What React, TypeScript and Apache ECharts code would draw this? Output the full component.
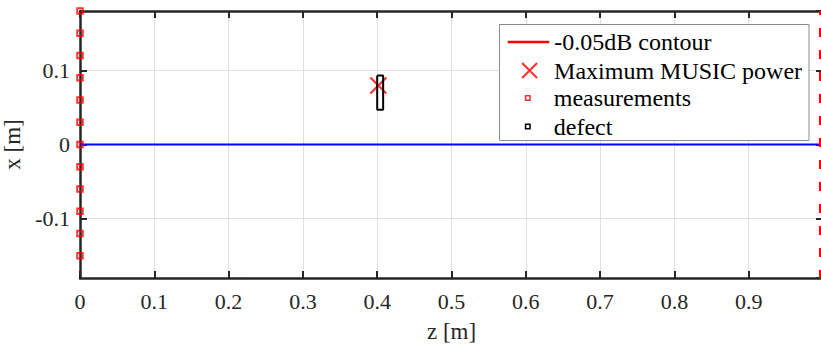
import React, { useEffect, useRef } from "react";
import * as echarts from "echarts";

// ---- data ----
const measurementZ = [0, 0, 0, 0, 0, 0, 0, 0, 0, 0, 0, 0];
const measurementX = [0.18, 0.15, 0.12, 0.09, 0.06, 0.03, 0, -0.03, -0.06, -0.09, -0.12, -0.15];
const contourZ = [0.996, 0.996];
const contourX = [0.18, -0.18];
const musicMaxZ = [0.4015];
const musicMaxX = [0.0795];
const defectZ = [0.4, 0.408, 0.408, 0.4, 0.4];
const defectX = [0.093, 0.093, 0.047, 0.047, 0.093];
const baselineZ = [0, 1];
const baselineX = [0, 0];
const legendNames = ["-0.05dB contour", "Maximum MUSIC power", "measurements", "defect"];
const axisNames = { z: "z [m]", x: "x [m]" };

const zip = (a: number[], b: number[]) => a.map((v, i) => [v, b[i]]);

const FONT = "'Liberation Serif', 'Times New Roman', serif";
const AX = "#262626";
const GRID = "#dfdfdf";
const X_SYMBOL = "path://M0,0L16,16M16,0L0,16";
// legend icons drawn in a 43x16 box (moveTo corners fix the bounding box)
const LINE_ICON = "path://M0,0M43,16M1.5,8L43,8";
const X_ICON = "path://M0,0M43,16M16,0.5L31,15.5M31,0.5L16,15.5";
const SQ_ICON = "path://M0,0M43,16M19.8,5.8L24.2,5.8L24.2,10.2L19.8,10.2Z";

export default function App() {
  const ref = useRef<HTMLDivElement>(null);
  useEffect(() => {
    if (!ref.current) return;
    const chart = echarts.init(ref.current, undefined, { renderer: "svg" });
    const tickLabel = { fontFamily: FONT, fontSize: 22, color: AX };
    const baseX = {
      type: "value",
      min: 0,
      max: 1,
      interval: 0.1,
      axisLine: { show: true, onZero: false, lineStyle: { color: AX, width: 2.5 } },
      axisTick: { show: true, inside: true, length: 7, lineStyle: { color: AX, width: 2 } },
    };
    const baseY = {
      type: "value",
      min: -0.18,
      max: 0.18,
      axisLine: { show: true, onZero: false, lineStyle: { color: AX, width: 2.5 } },
      axisTick: { show: true, inside: true, length: 7, lineStyle: { color: AX, width: 2 } },
    };
    const legendBase = (name: string, center: number, icon: string, itemStyle: any) => ({
      show: true,
      orient: "vertical",
      left: 505,
      top: center - 12,
      padding: 0,
      itemWidth: 43,
      itemHeight: 16,
      selectedMode: false,
      symbolKeepAspect: false,
      textStyle: { fontFamily: FONT, fontSize: 24, color: "#000" },
      data: [{ name, icon, itemStyle }],
      z: 5,
    });
    chart.setOption({
      animation: false,
      backgroundColor: "#ffffff",
      grid: { left: 80, right: -2, top: 11, bottom: 69, outerBoundsMode: "none", containLabel: false },
      xAxis: [
        {
          ...baseX,
          position: "bottom",
          name: axisNames.z,
          nameLocation: "middle",
          nameGap: 42,
          nameTextStyle: { fontFamily: FONT, fontSize: 23, color: AX },
          axisLabel: { show: true, margin: 12, showMaxLabel: false, ...tickLabel },
          splitLine: { show: true, lineStyle: { color: GRID, width: 1 } },
        },
        {
          ...baseX,
          position: "top",
          axisLabel: { show: false },
          splitLine: { show: false },
        },
      ],
      yAxis: [
        {
          ...baseY,
          position: "left",
          name: axisNames.x,
          nameLocation: "middle",
          nameGap: 48,
          nameTextStyle: { fontFamily: FONT, fontSize: 23, color: AX },
          axisLabel: { show: true, margin: 10, showMinLabel: false, showMaxLabel: false, ...tickLabel },
          splitLine: { show: true, lineStyle: { color: GRID, width: 1 } },
        },
        {
          ...baseY,
          position: "right",
          axisLabel: { show: false },
          splitLine: { show: false },
        },
      ],
      legend: [
        legendBase(legendNames[0], 42, LINE_ICON, {
          color: "rgba(0,0,0,0)", borderColor: "#ff0000", borderWidth: 2.5,
        }),
        legendBase(legendNames[1], 70.5, X_ICON, {
          color: "rgba(0,0,0,0)", borderColor: "#ff0000", borderWidth: 2.2,
        }),
        legendBase(legendNames[2], 98, SQ_ICON, {
          color: "rgba(0,0,0,0)", borderColor: "#ff0000", borderWidth: 1.6,
        }),
        legendBase(legendNames[3], 126.5, SQ_ICON, {
          color: "rgba(0,0,0,0)", borderColor: "#000000", borderWidth: 1.6,
        }),
      ],
      graphic: [
        {
          type: "rect",
          z: 3,
          shape: { x: 499.5, y: 24.5, width: 309.5, height: 116 },
          style: { fill: "#ffffff", stroke: "#8a8a8a", lineWidth: 1 },
        },
      ],
      series: [
        {
          name: "baseline",
          type: "line",
          data: zip(baselineZ, baselineX),
          symbol: "none",
          lineStyle: { color: "#0000ff", width: 2.2 },
          z: 2,
        },
        {
          name: legendNames[0],
          type: "line",
          data: zip(contourZ, contourX),
          symbol: "none",
          clip: false,
          itemStyle: { color: "#ff0000" },
          lineStyle: { color: "#ff0000", width: 2, type: [9, 13], dashOffset: 4.7 },
          z: 3,
        },
        {
          name: legendNames[3],
          type: "line",
          data: zip(defectZ, defectX),
          symbol: "none",
          lineStyle: { color: "#000000", width: 2 },
          itemStyle: { color: "#000000" },
          z: 4,
        },
        {
          name: legendNames[1],
          type: "scatter",
          data: zip(musicMaxZ, musicMaxX),
          symbol: X_SYMBOL,
          symbolSize: 16,
          clip: false,
          itemStyle: { color: "rgba(0,0,0,0)", borderColor: "#ff0000", borderWidth: 2.2 },
          z: 3,
        },
        {
          name: legendNames[2],
          type: "scatter",
          data: zip(measurementZ, measurementX),
          symbol: "rect",
          symbolSize: 5.5,
          clip: false,
          itemStyle: { color: "rgba(0,0,0,0)", borderColor: "#ff0000", borderWidth: 2 },
          z: 5,
        },
      ],
    });
    return () => chart.dispose();
  }, []);
  return (
    <div
      ref={ref}
      style={{ position: "absolute", left: 0, top: 0, width: 821, height: 347, background: "#fff" }}
    />
  );
}
